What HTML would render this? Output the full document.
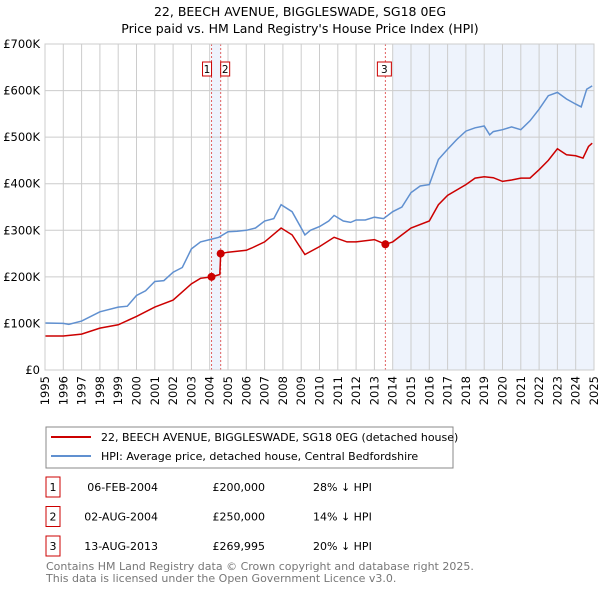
<!DOCTYPE html>
<html><head><meta charset="utf-8"><style>
body{margin:0;background:#fff;width:600px;height:590px;overflow:hidden;font-family:"Liberation Sans","DejaVu Sans",sans-serif;}
svg text{font-family:"DejaVu Sans","Liberation Sans",sans-serif;}
</style></head><body>
<svg id="c" width="600" height="590" xmlns="http://www.w3.org/2000/svg">
<text x="300" y="16" text-anchor="middle" font-size="12.5" fill="#000">22, BEECH AVENUE, BIGGLESWADE, SG18 0EG</text>
<text x="300" y="33" text-anchor="middle" font-size="12.5" fill="#000">Price paid vs. HM Land Registry's House Price Index (HPI)</text>
<g id="plot"></g>
<g>
<rect x="46" y="427" width="407" height="41" fill="#fff" stroke="#888"/>
<line x1="51" y1="437" x2="91" y2="437" stroke="#cc0000" stroke-width="2"/>
<text x="101" y="441" font-size="11">22, BEECH AVENUE, BIGGLESWADE, SG18 0EG (detached house)</text>
<line x1="51" y1="456" x2="91" y2="456" stroke="#6090d0" stroke-width="2"/>
<text x="101" y="460" font-size="11">HPI: Average price, detached house, Central Bedfordshire</text>
</g>
<g id="table" font-size="11"></g>
<text x="46" y="570" font-size="11" fill="#777">Contains HM Land Registry data © Crown copyright and database right 2025.</text>
<text x="46" y="582" font-size="11" fill="#777">This data is licensed under the Open Government Licence v3.0.</text>
</svg>
<script>
const hpiYears=[1995,1996,1996.3,1997,1998,1999,1999.5,2000,2000.5,2001,2001.5,2002,2002.5,2003,2003.5,2004,2004.5,2005,2005.5,2006,2006.5,2007,2007.5,2007.9,2008.5,2009,2009.2,2009.5,2010,2010.5,2010.8,2011.3,2011.7,2012,2012.5,2013,2013.5,2014,2014.5,2015,2015.5,2016,2016.5,2017,2017.5,2018,2018.5,2019,2019.3,2019.5,2020,2020.5,2021,2021.5,2022,2022.5,2023,2023.5,2024,2024.3,2024.6,2024.9];
const hpiValues=[101,100,98,105,125,135,137,160,170,190,192,210,220,260,275,280,285,297,298,300,305,320,325,355,340,305,290,300,308,320,332,320,317,322,322,328,325,340,350,381,395,398,452,474,495,513,520,524,505,512,516,522,516,535,560,589,596,582,571,565,603,610];
const priceYears=[1995,1996,1997,1998,1999,2000,2001,2002,2003,2003.5,2004.1,2004.55,2004.6,2005,2006,2006.3,2007,2007.9,2008.5,2009.2,2010,2010.8,2011.5,2012,2013,2013.6,2014,2014.5,2015,2016,2016.5,2017,2018,2018.5,2019,2019.5,2020,2020.5,2021,2021.5,2022,2022.5,2023,2023.5,2024,2024.4,2024.7,2024.9];
const priceValues=[73,73,77,90,97,115,135,150,185,197,200,205,250,253,257,262,275,305,290,248,265,285,275,275,280,270,275,290,305,320,355,375,398,412,415,413,405,408,412,412,430,450,475,462,460,455,480,487];
const saleYears=[2004.1,2004.6,2013.6];
const saleValues=[200,250,270];
const saleLabels=["1","2","3"];
const saleDates=["06-FEB-2004","02-AUG-2004","13-AUG-2013"];
const salePrices=["£200,000","£250,000","£269,995"];
const saleHpi=["28% ↓ HPI","14% ↓ HPI","20% ↓ HPI"];
const yTicks=[0,100,200,300,400,500,600,700];
const yTickLabels=["£0","£100K","£200K","£300K","£400K","£500K","£600K","£700K"];
const xTicks=[];for(let y=1995;y<=2025;y++)xTicks.push(y);

const X0=45,X1=594,Y0=370,Y1=44;
const xs=y=>X0+(y-1995)/30*(X1-X0);
const ys=v=>Y0-v/700*(Y0-Y1);
const NS="http://www.w3.org/2000/svg";
const plot=document.getElementById('plot');
function mk(tag,attrs,parent){const e=document.createElementNS(NS,tag);for(const k in attrs)e.setAttribute(k,attrs[k]);(parent||plot).appendChild(e);return e;}
let r=mk('rect',{x:xs(saleYears[0]),y:Y1,width:xs(saleYears[1])-xs(saleYears[0]),height:Y0-Y1,fill:'#eef3fc'});


r=mk('rect',{x:xs(2014),y:Y1,width:X1-xs(2014),height:Y0-Y1,fill:'#eef3fc'});


xTicks.forEach(t=>{const l=mk('line',{x1:xs(t),x2:xs(t),y1:Y1,y2:Y0,stroke:'#ccc','stroke-width':1});


const tx=mk('text',{x:0,y:0,'font-size':11.5,'text-anchor':'end',transform:`translate(${xs(t)+4},${Y0+6}) rotate(-90)`});
tx.textContent=t;

});
yTicks.forEach((t,i)=>{const l=mk('line',{x1:X0,x2:X1,y1:ys(t),y2:ys(t),stroke:'#ccc','stroke-width':1});


const tx=mk('text',{x:40,y:ys(t)+4,'font-size':11.5,'text-anchor':'end'});
tx.textContent=yTickLabels[i];

});
saleYears.forEach((s,i)=>{const l=mk('line',{x1:xs(s),x2:xs(s),y1:Y1,y2:Y0,stroke:'#e06060','stroke-width':1,'stroke-dasharray':'2,2'});

});
function path(xa,va,color,name){const d=xa.map((x,i)=>(i?'L':'M')+xs(x).toFixed(1)+','+ys(va[i]).toFixed(1)).join('');
const p=mk('path',{d:d,fill:'none',stroke:color,'stroke-width':1.5});

}
path(hpiYears,hpiValues,'#6090d0','hpi-line');
path(priceYears,priceValues,'#cc0000','price-line');
saleYears.forEach((s,i)=>{const c=mk('circle',{cx:xs(s),cy:ys(saleValues[i]),r:4,fill:'#cc0000'});


const bx=i==0?xs(s)-9:(i==1?xs(s):xs(s)-8);
const b=mk('rect',{x:bx,y:62,width:i==2?14:9,height:14,fill:'#fff',stroke:'#cc0000'});


const t=mk('text',{x:bx+(i==2?7:4.5),y:73,'font-size':10.5,'text-anchor':'middle'});
t.textContent=saleLabels[i];

});
mk('rect',{x:X0,y:Y1,width:X1-X0,height:Y0-Y1,fill:'none',stroke:'#ccc'});
const tb=document.getElementById('table');
saleLabels.forEach((l,i)=>{const cy=487+i*29.5;
const b=mk('rect',{x:46,y:cy-10,width:14,height:20,fill:'#fff',stroke:'#cc0000'},tb);


const cols=[[53,l,'middle'],[158,saleDates[i],'end'],[265,salePrices[i],'end'],[313,saleHpi[i],'start']];
cols.forEach(c=>{const t=mk('text',{x:c[0],y:cy+4,'text-anchor':c[2]},tb);
t.textContent=c[1];

});});
</script>
</body></html>
